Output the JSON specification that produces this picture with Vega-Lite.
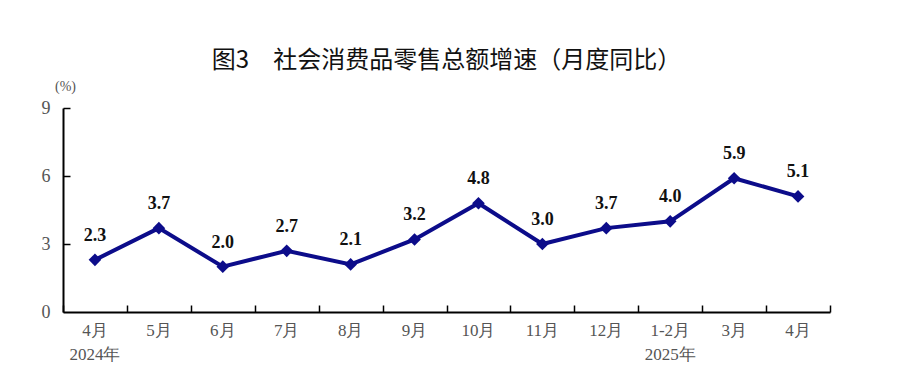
{
  "$schema": "https://vega.github.io/schema/vega-lite/v6.json",
  "width": 767,
  "height": 204,
  "autosize": "none",
  "padding": {"left": 63, "top": 108, "right": 70, "bottom": 73},
  "background": "white",
  "title": {
    "text": "图3　社会消费品零售总额增速（月度同比）",
    "font": "Noto Sans CJK SC",
    "fontSize": 24,
    "fontWeight": "normal",
    "color": "#111111",
    "anchor": "middle",
    "offset": 6
  },
  "config": {"view": {"stroke": null}},
  "data": {
    "values": [
      {"month": "4月|2024年", "value": 2.3},
      {"month": "5月", "value": 3.7},
      {"month": "6月", "value": 2.0},
      {"month": "7月", "value": 2.7},
      {"month": "8月", "value": 2.1},
      {"month": "9月", "value": 3.2},
      {"month": "10月", "value": 4.8},
      {"month": "11月", "value": 3.0},
      {"month": "12月", "value": 3.7},
      {"month": "1-2月|2025年", "value": 4.0},
      {"month": "3月", "value": 5.9},
      {"month": "4月", "value": 5.1}
    ]
  },
  "resolve": {"axis": {"x": "independent", "y": "independent"}},
  "layer": [
    {
      "mark": {"type": "line", "color": "#0c0c8a", "strokeWidth": 4},
      "encoding": {
        "x": {
          "field": "month",
          "type": "nominal",
          "sort": null,
          "scale": {"type": "band", "paddingInner": 0, "paddingOuter": 0},
          "axis": {
            "orient": "bottom",
            "title": null,
            "labelAngle": 0,
            "labelExpr": "split(datum.label, '|')",
            "labelFont": "Liberation Serif",
            "labelFontSize": 17,
            "labelColor": "#555555",
            "labelPadding": 10,
            "labelLineHeight": 24,
            "ticks": false,
            "domainColor": "#000000",
            "domainWidth": 2
          }
        },
        "y": {
          "field": "value",
          "type": "quantitative",
          "scale": {"domain": [0, 9]},
          "axis": {
            "orient": "left",
            "values": [0, 3, 6, 9],
            "title": "(%)",
            "titleAngle": 0,
            "titleX": 2,
            "titleY": -22,
            "titleAlign": "center",
            "titleBaseline": "middle",
            "titleFont": "Liberation Serif",
            "titleFontSize": 14,
            "titleFontWeight": "normal",
            "titleColor": "#555555",
            "labelFont": "Liberation Serif",
            "labelFontSize": 18,
            "labelColor": "#555555",
            "labelPadding": 13,
            "grid": false,
            "ticks": false,
            "domainColor": "#000000",
            "domainWidth": 2
          }
        }
      }
    },
    {
      "mark": {"type": "point", "shape": "diamond", "filled": true, "color": "#0c0c8a", "size": 160, "opacity": 1},
      "encoding": {
        "x": {
          "field": "month",
          "type": "nominal",
          "sort": null,
          "axis": {
            "orient": "bottom",
            "offset": -7,
            "title": null,
            "labels": false,
            "domain": false,
            "ticks": true,
            "tickBand": "extent",
            "tickSize": 7,
            "tickColor": "#000000",
            "tickWidth": 1.5
          }
        },
        "y": {
          "field": "value",
          "type": "quantitative",
          "axis": {
            "orient": "left",
            "offset": -7,
            "values": [3, 6, 9],
            "title": null,
            "labels": false,
            "domain": false,
            "grid": false,
            "ticks": true,
            "tickSize": 7,
            "tickColor": "#000000",
            "tickWidth": 1.5
          }
        }
      }
    },
    {
      "mark": {"type": "text", "dy": -24, "font": "Liberation Serif", "fontSize": 18, "fontWeight": "bold", "color": "#111111"},
      "encoding": {
        "x": {"field": "month", "type": "nominal", "sort": null, "axis": null},
        "y": {"field": "value", "type": "quantitative", "axis": null},
        "text": {"field": "value", "type": "quantitative", "format": ".1f"}
      }
    }
  ]
}
